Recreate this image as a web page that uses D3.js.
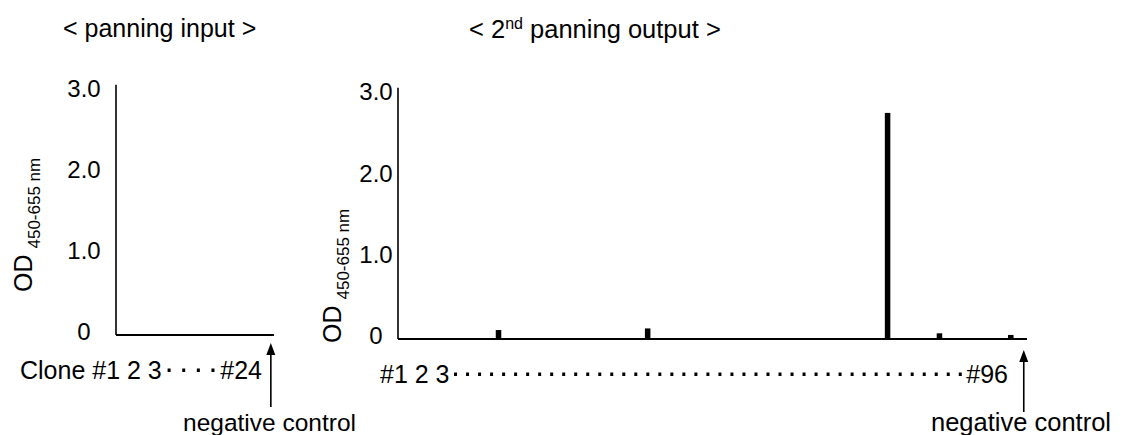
<!DOCTYPE html>
<html lang="en">
<head>
<meta charset="UTF-8">
<title>panning ELISA</title>
<script src="https://cdn.jsdelivr.net/npm/d3@7/dist/d3.min.js"></script>
<style>
body{margin:0;background:#fff;}
svg text{font-family:"Liberation Sans",Arial,sans-serif;fill:#000;}
</style>
</head>
<body>
<div id="chart"></div>
<script>
// ---- data ----
var yTicks=[0,1,2,3];
var yTickLabels=["0","1.0","2.0","3.0"];

// panning input: clone #1..#24, all at 0
var inputClones=d3.range(1,25);
var inputValues=[0,0,0,0,0,0,0,0,0,0,0,0,0,0,0,0,0,0,0,0,0,0,0,0];

// 2nd panning output: clone #1..#96, only these rise above 0
var outputClones=d3.range(1,97);
var hitClones=[16,39,76,84,95];
var hitValues=[0.11,0.13,2.78,0.07,0.05];

var W=1125,H=435;
var svg=d3.select("#chart").append("svg")
    .attr("width",W)
    .attr("height",H);

// ---- scales ----
var yLeft=d3.scaleLinear().domain([0,3]).range([335,92]);
var yRight=d3.scaleLinear().domain([0,3]).range([339,95]);

var xLeft=d3.scaleBand().domain(inputClones.concat(["NC"])).range([116,274]);
var xRight=d3.scaleBand().domain(outputClones.concat(["NC"])).range([398,1027]);

// draws the y axis (labels centred like the original), the axis lines and bars
function panel(x,y,labelX,clones,values,barW){
    var g=svg.append("g");

    var axis=d3.axisLeft(y)
        .tickValues(yTicks)
        .tickSize(0)
        .tickFormat(function(d,i){return yTickLabels[i];});
    var ax=g.append("g")
        .attr("transform","translate("+labelX+",0)")
        .call(axis);
    ax.select(".domain").remove();
    ax.selectAll("text")
        .attr("x",0)
        .attr("dy","0.32em")
        .attr("y",-3)
        .attr("text-anchor","middle")
        .style("font-size","24px")
        .style("font-family","'Liberation Sans',Arial,sans-serif");

    var x0=x.range()[0],x1=x.range()[1];
    g.append("line")
        .attr("x1",x0).attr("x2",x0)
        .attr("y1",y(0)).attr("y2",y(3.09))
        .attr("stroke","#000").attr("stroke-width",1.6);
    g.append("line")
        .attr("x1",x0).attr("x2",x1)
        .attr("y1",y(0)).attr("y2",y(0))
        .attr("stroke","#000").attr("stroke-width",2);

    g.selectAll("rect.bar")
        .data(clones.map(function(c,i){return {c:c,v:values[i]};}))
        .enter().append("rect")
        .attr("class","bar")
        .attr("x",function(d){return x(d.c)+x.bandwidth()/2-barW/2;})
        .attr("width",barW)
        .attr("y",function(d){return y(d.v);})
        .attr("height",function(d){return y(0)-y(d.v);})
        .attr("fill","#000");
    return g;
}

panel(xLeft,yLeft,84,inputClones,inputValues,5.5);
panel(xRight,yRight,376,hitClones,hitValues,5.5);

// ---- OD label (rotated, with subscript) ----
function odLabel(x,y){
    var t=svg.append("text")
        .attr("transform","translate("+x+","+y+") rotate(-90)");
    t.append("tspan").text("OD").style("font-size","25px");
    t.append("tspan").attr("dx",6).attr("dy",8).text("450-655 nm").style("font-size","17px");
}
odLabel(32,292);
odLabel(341,343);

// ---- titles ----
svg.append("text")
    .attr("x",63).attr("y",37)
    .style("font-size","25px")
    .text("< panning input >");
var t2=svg.append("text")
    .attr("x",469).attr("y",38)
    .style("font-size","25.5px");
t2.append("tspan").text("< 2");
t2.append("tspan").attr("dy",-9).style("font-size","16px").text("nd");
t2.append("tspan").attr("dy",9).text(" panning output >");

// ---- clone number labels with dotted runs ----
function dots(x0,x1,y,step){
    var n=Math.max(1,Math.round((x1-x0)/step));
    var s=(x1-x0)/n;
    svg.selectAll(null)
        .data(d3.range(n))
        .enter().append("rect")
        .attr("x",function(i){return x0+s*(i+0.5)-1.5;})
        .attr("y",y-1.5)
        .attr("width",3).attr("height",3.5)
        .attr("fill","#000");
}
function cloneRow(startX,endX,baseY,first,last,size,step){
    var a=svg.append("text")
        .attr("x",startX).attr("y",baseY)
        .style("font-size",size+"px")
        .text(first);
    var b=svg.append("text")
        .attr("x",endX).attr("y",baseY)
        .attr("text-anchor","end")
        .style("font-size",size+"px")
        .text(last);
    var aEnd=startX+a.node().getComputedTextLength();
    var bStart=endX-b.node().getComputedTextLength();
    dots(aEnd,bStart,baseY-9,step);
}
cloneRow(20,262,379,"Clone #1 2 3","#24",25,15);
cloneRow(380,1008,383,"#1 2 3","#96",25,12);

// ---- negative control arrows ----
function arrow(x,yTip,yEnd){
    svg.append("line")
        .attr("x1",x).attr("x2",x)
        .attr("y1",yTip+8).attr("y2",yEnd)
        .attr("stroke","#000").attr("stroke-width",1.6);
    svg.append("path")
        .attr("d","M"+x+","+yTip+"L"+(x-4.5)+","+(yTip+12)+"L"+(x+4.5)+","+(yTip+12)+"Z")
        .attr("fill","#000");
}
var ncLeft=xLeft("NC")+xLeft.bandwidth()/2;
var ncRight=xRight("NC")+xRight.bandwidth()/2;
arrow(ncLeft,343,407);
arrow(ncRight,350,412);

svg.append("text")
    .attr("x",183).attr("y",431)
    .style("font-size","24.5px")
    .text("negative control");
svg.append("text")
    .attr("x",931).attr("y",431)
    .style("font-size","25.5px")
    .text("negative control");
</script>
</body>
</html>
